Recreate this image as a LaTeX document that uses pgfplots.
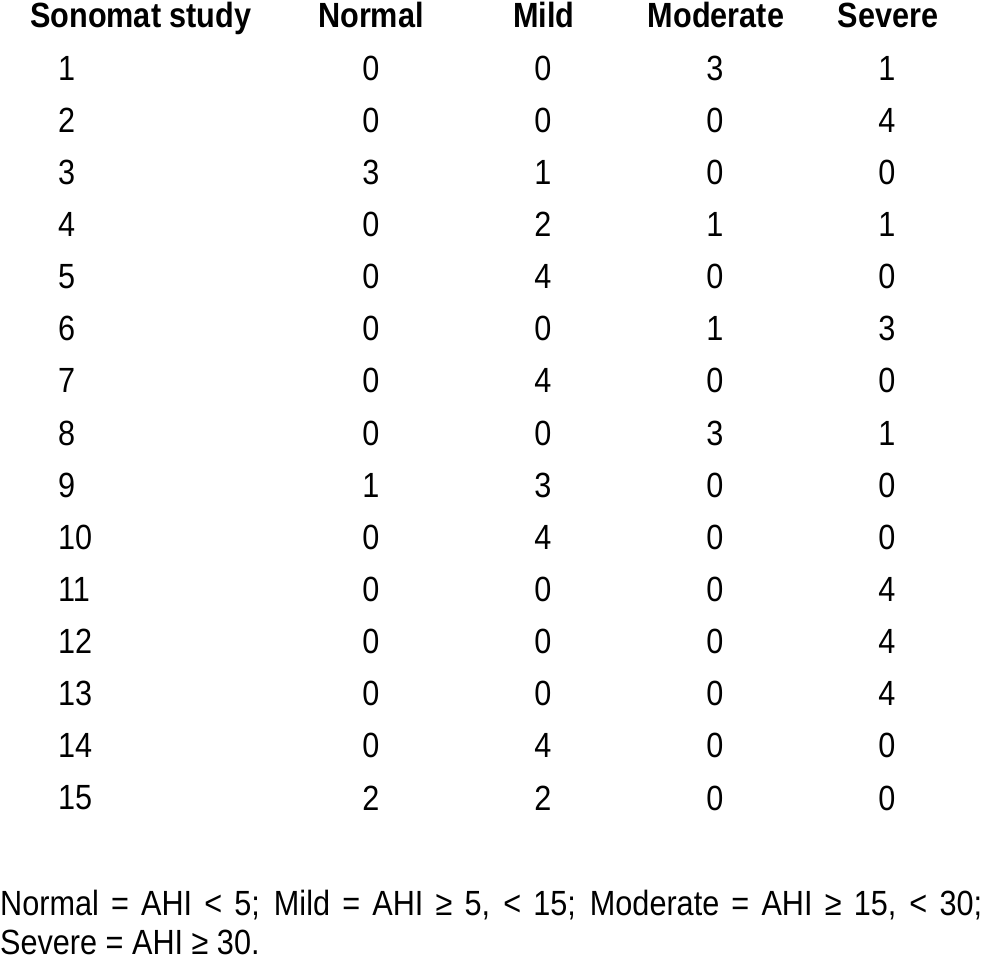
\documentclass[border=0pt]{standalone}
\usepackage{fontspec}
\setmainfont[FakeStretch=0.875]{Liberation Sans}
\usepackage{pgfplots}
\pgfplotsset{compat=1.18}
\usepackage{pgfplotstable}

\pgfplotstableread{
study normal mild moderate severe
1 0 0 3 1
2 0 0 0 4
3 3 1 0 0
4 0 2 1 1
5 0 4 0 0
6 0 0 1 3
7 0 4 0 0
8 0 0 3 1
9 1 3 0 0
10 0 4 0 0
11 0 0 0 4
12 0 0 0 4
13 0 0 0 4
14 0 4 0 0
15 2 2 0 0
}\datatable

\begin{document}
\begin{tikzpicture}
\useasboundingbox (0,0) rectangle (982bp,962bp);
\begin{axis}[
  at={(0,0)}, anchor=south west,
  scale only axis, width=982bp, height=962bp,
  xmin=0, xmax=982, ymin=-962, ymax=0,
  hide axis, clip=false,
  point meta=explicit symbolic,
  nodes near coords,
  every node near coord/.append style={anchor=center, inner sep=0pt, text=black,
     font=\fontsize{35bp}{41bp}\selectfont},
]
\addplot[draw=none, mark=none, every node near coord/.append style={anchor=west}]
  table[x expr=58, y expr={-68-52.15*\coordindex}, meta=study] {\datatable};
\addplot[draw=none, mark=none]
  table[x expr=371, y expr={-68-52.15*\coordindex}, meta=normal] {\datatable};
\addplot[draw=none, mark=none]
  table[x expr=543, y expr={-68-52.15*\coordindex}, meta=mild] {\datatable};
\addplot[draw=none, mark=none]
  table[x expr=715, y expr={-68-52.15*\coordindex}, meta=moderate] {\datatable};
\addplot[draw=none, mark=none]
  table[x expr=887, y expr={-68-52.15*\coordindex}, meta=severe] {\datatable};

\begin{scope}[every node/.style={inner sep=0pt, font=\fontsize{35bp}{41bp}\selectfont\bfseries}]
\node[anchor=base west] at (axis cs:30,-28) {Sonomat study};
\node[anchor=base] at (axis cs:371,-28) {Normal};
\node[anchor=base] at (axis cs:544,-28) {Mild};
\node[anchor=base] at (axis cs:716,-28) {Moderate};
\node[anchor=base] at (axis cs:888,-28) {Severe};
\end{scope}

\node[anchor=base west, inner sep=0pt, text width=982bp, align=justify,
      font=\fontsize{35bp}{39bp}\selectfont] at (axis cs:0,-916)
  {Normal = AHI < 5; Mild = AHI ≥ 5, < 15; Moderate = AHI ≥ 15, < 30;\linebreak Severe = AHI ≥ 30.};
\end{axis}
\end{tikzpicture}
\end{document}
